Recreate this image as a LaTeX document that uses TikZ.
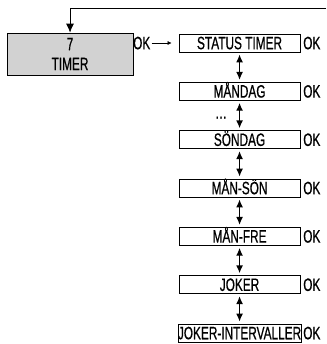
\documentclass[tikz,border=0pt]{standalone}
\usepackage{fontspec}
\setmainfont{Liberation Sans}[FakeStretch=0.66,FakeBold=0.6]
\usetikzlibrary{arrows.meta}

\begin{document}
\begin{tikzpicture}[>={Latex[length=8pt,width=7pt]}, line width=0.8pt,
  font=\fontsize{18}{20}\selectfont,
  menu/.style={draw, minimum width=4.27cm, minimum height=0.635cm, inner sep=0pt, text height=12.5pt, text depth=0pt},
  oklbl/.style={inner sep=1pt, text height=12.5pt, text depth=0pt},
  title/.style={draw, fill=gray!35, minimum width=4.44cm, minimum height=1.48cm, align=center, inner sep=0pt},
  updown/.style={<->, line width=1.4pt, shorten <=2pt, shorten >=2pt}]
\useasboundingbox (0,0) rectangle (11.5,-12.134);

\node[title] (tm) at (2.47,-1.905) {7\\TIMER};
\node[oklbl] (ok) at (5.0,-1.517) {OK};

\node[menu] (st) at (8.45,-1.517) {STATUS TIMER};
\node[menu] (ma) at (8.45,-3.222) {MÅNDAG};
\node[menu] (so) at (8.45,-4.927) {SÖNDAG};
\node[menu] (ms) at (8.45,-6.632) {MÅN-SÖN};
\node[menu] (mf) at (8.45,-8.337) {MÅN-FRE};
\node[menu] (jo) at (8.45,-10.042) {JOKER};
\node[menu] (ji) at (8.45,-11.747) {JOKER-INTERVALLER};

\node[oklbl] (okst) at (11.0,-1.517) {OK};
\node[oklbl] (okma) at (11.0,-3.222) {OK};
\node[oklbl] (okso) at (11.0,-4.927) {OK};
\node[oklbl] (okms) at (11.0,-6.632) {OK};
\node[oklbl] (okmf) at (11.0,-8.337) {OK};
\node[oklbl] (okjo) at (11.0,-10.042) {OK};
\node[oklbl] (okji) at (11.0,-11.747) {OK};

\coordinate (back) at (11.5,-0.282);
\draw[->, >={Latex[length=9pt,width=8pt]}] (back) -| (tm);
\draw[->, >={Latex[length=4pt,width=4pt]}, line width=0.6pt, shorten >=7pt] (ok) -- (st);

\draw[updown] (st) -- (ma);
\draw[updown] (ma) -- (so) node[midway, anchor=base east, inner sep=0pt, xshift=-12pt, yshift=-3pt] {\dots};
\draw[updown] (so) -- (ms);
\draw[updown] (ms) -- (mf);
\draw[updown] (mf) -- (jo);
\draw[updown] (jo) -- (ji);
\end{tikzpicture}
\end{document}
